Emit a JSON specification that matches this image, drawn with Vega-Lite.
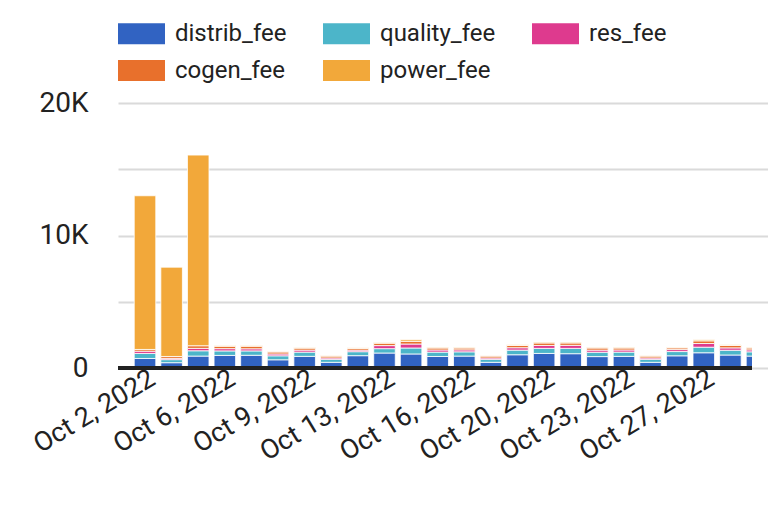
{
  "$schema": "https://vega.github.io/schema/vega-lite/v6.json",
  "autosize": {"type": "none"},
  "width": 634,
  "height": 265,
  "padding": {"left": 118, "top": 103, "right": 16, "bottom": 138},
  "background": "white",
  "config": {
    "font": "Roboto",
    "view": {"stroke": null}
  },
  "data": {
    "values": [
      {"day": "Oct 2, 2022", "distrib_fee": 720, "quality_fee": 380, "res_fee": 170, "cogen_fee": 130, "power_fee": 11600},
      {"day": "Oct 3, 2022", "distrib_fee": 400, "quality_fee": 230, "res_fee": 100, "cogen_fee": 140, "power_fee": 6740},
      {"day": "Oct 4, 2022", "distrib_fee": 900, "quality_fee": 400, "res_fee": 180, "cogen_fee": 200, "power_fee": 14390},
      {"day": "Oct 6, 2022", "distrib_fee": 950, "quality_fee": 340, "res_fee": 170, "cogen_fee": 180, "power_fee": 60},
      {"day": "Oct 7, 2022", "distrib_fee": 960, "quality_fee": 330, "res_fee": 160, "cogen_fee": 190, "power_fee": 60},
      {"day": "Oct 8, 2022", "distrib_fee": 620, "quality_fee": 300, "res_fee": 140, "cogen_fee": 150, "power_fee": 40},
      {"day": "Oct 9, 2022", "distrib_fee": 880, "quality_fee": 320, "res_fee": 150, "cogen_fee": 150, "power_fee": 50},
      {"day": "Oct 10, 2022", "distrib_fee": 430, "quality_fee": 230, "res_fee": 100, "cogen_fee": 140, "power_fee": 30},
      {"day": "Oct 11, 2022", "distrib_fee": 930, "quality_fee": 300, "res_fee": 120, "cogen_fee": 130, "power_fee": 40},
      {"day": "Oct 13, 2022", "distrib_fee": 1130, "quality_fee": 330, "res_fee": 230, "cogen_fee": 180, "power_fee": 60},
      {"day": "Oct 14, 2022", "distrib_fee": 1060, "quality_fee": 450, "res_fee": 300, "cogen_fee": 200, "power_fee": 120},
      {"day": "Oct 15, 2022", "distrib_fee": 870, "quality_fee": 330, "res_fee": 160, "cogen_fee": 150, "power_fee": 50},
      {"day": "Oct 16, 2022", "distrib_fee": 900, "quality_fee": 320, "res_fee": 150, "cogen_fee": 140, "power_fee": 50},
      {"day": "Oct 17, 2022", "distrib_fee": 430, "quality_fee": 230, "res_fee": 100, "cogen_fee": 140, "power_fee": 30},
      {"day": "Oct 18, 2022", "distrib_fee": 1000, "quality_fee": 350, "res_fee": 180, "cogen_fee": 170, "power_fee": 50},
      {"day": "Oct 20, 2022", "distrib_fee": 1100, "quality_fee": 380, "res_fee": 220, "cogen_fee": 190, "power_fee": 60},
      {"day": "Oct 21, 2022", "distrib_fee": 1080, "quality_fee": 400, "res_fee": 230, "cogen_fee": 180, "power_fee": 60},
      {"day": "Oct 22, 2022", "distrib_fee": 860, "quality_fee": 330, "res_fee": 160, "cogen_fee": 160, "power_fee": 50},
      {"day": "Oct 23, 2022", "distrib_fee": 880, "quality_fee": 320, "res_fee": 160, "cogen_fee": 150, "power_fee": 50},
      {"day": "Oct 24, 2022", "distrib_fee": 430, "quality_fee": 230, "res_fee": 100, "cogen_fee": 140, "power_fee": 30},
      {"day": "Oct 25, 2022", "distrib_fee": 920, "quality_fee": 320, "res_fee": 150, "cogen_fee": 130, "power_fee": 40},
      {"day": "Oct 27, 2022", "distrib_fee": 1150, "quality_fee": 420, "res_fee": 280, "cogen_fee": 200, "power_fee": 80},
      {"day": "Oct 28, 2022", "distrib_fee": 980, "quality_fee": 360, "res_fee": 180, "cogen_fee": 180, "power_fee": 50},
      {"day": "Oct 29, 2022", "distrib_fee": 900, "quality_fee": 320, "res_fee": 150, "cogen_fee": 140, "power_fee": 50}
    ]
  },
  "layer": [
    {
      "transform": [
        {"fold": ["distrib_fee", "quality_fee", "res_fee", "cogen_fee", "power_fee"], "as": ["fee", "value"]},
        {"window": [{"op": "row_number", "as": "stack_rank"}], "groupby": ["day"]}
      ],
      "mark": {"type": "bar", "clip": true, "stroke": "white", "strokeWidth": 0.8},
      "encoding": {
        "x": {
          "field": "day",
          "type": "ordinal",
          "sort": null,
          "scale": {"range": [0, 666], "paddingInner": 0.19, "paddingOuter": 0.61},
          "axis": {
            "title": null,
            "values": ["Oct 2, 2022", "Oct 6, 2022", "Oct 9, 2022", "Oct 13, 2022", "Oct 16, 2022", "Oct 20, 2022", "Oct 23, 2022", "Oct 27, 2022"],
            "labelAngle": -31,
            "labelAlign": "right",
            "labelBaseline": "middle",
            "labelFontSize": 27,
            "labelColor": "#222",
            "labelPadding": 8,
            "labelOffset": 8,
            "domain": false,
            "ticks": false,
            "grid": false
          }
        },
        "y": {
          "field": "value",
          "type": "quantitative",
          "stack": "zero",
          "scale": {"domain": [0, 20000], "nice": false},
          "axis": {
            "title": null,
            "values": [0, 5000, 10000, 15000, 20000],
            "labelExpr": "datum.value == 0 ? '0' : (datum.value % 10000 == 0 ? (datum.value / 1000) + 'K' : '')",
            "domain": false,
            "ticks": false,
            "labelPadding": 30,
            "labelFontSize": 28,
            "labelColor": "#222",
            "gridColor": "#dadada",
            "gridWidth": 2
          }
        },
        "order": {"field": "stack_rank", "type": "quantitative", "sort": "ascending"},
        "color": {
          "field": "fee",
          "type": "nominal",
          "sort": ["distrib_fee", "quality_fee", "res_fee", "cogen_fee", "power_fee"],
          "scale": {
            "domain": ["distrib_fee", "quality_fee", "res_fee", "cogen_fee", "power_fee"],
            "range": ["#3163c2", "#4cb5c9", "#de3a8e", "#e8702c", "#f2a83a"]
          },
          "legend": {
            "title": null,
            "orient": "top",
            "direction": "horizontal",
            "columns": 3,
            "symbolType": "M-1,-0.447H1V0.447H-1Z",
            "symbolSize": 2209,
            "symbolStrokeWidth": 0,
            "labelFontSize": 24,
            "labelColor": "#222",
            "labelOffset": 10,
            "labelLimit": 300,
            "columnPadding": 36,
            "rowPadding": 1,
            "offset": 20
          }
        }
      }
    },
    {
      "mark": {"type": "rule", "color": "#222", "strokeWidth": 2.5},
      "encoding": {"y": {"datum": 0}}
    }
  ]
}
